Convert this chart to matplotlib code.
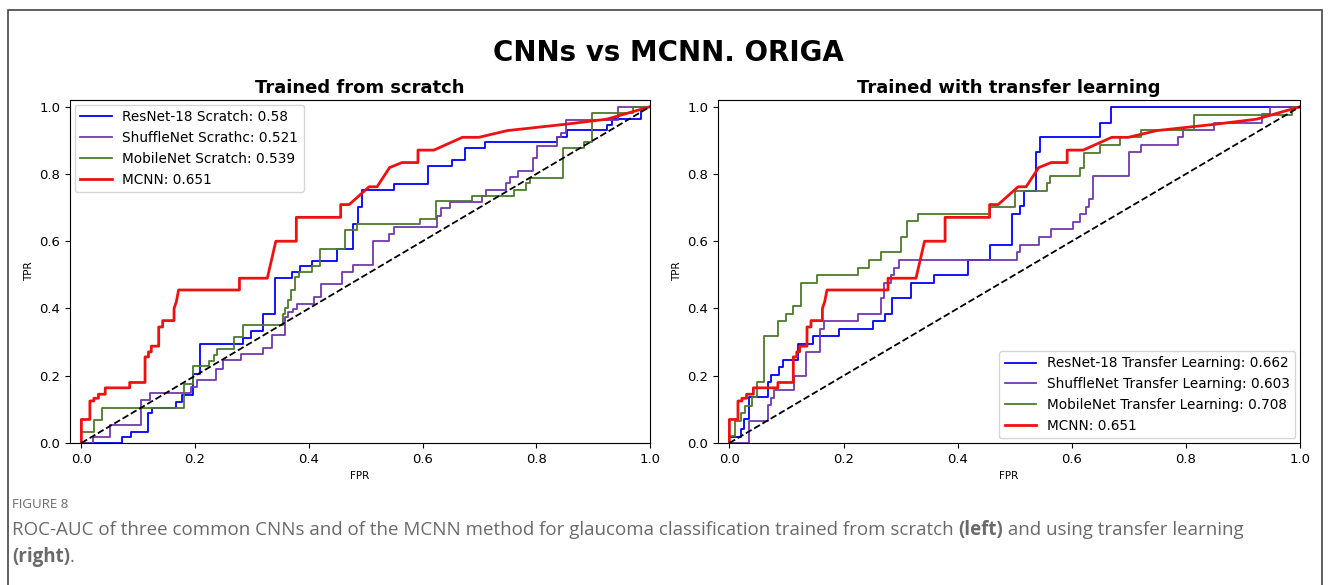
'''ROC curves of three CNNs and the MCNN on ORIGA (scratch vs transfer learning)'''
# import libraries
import matplotlib
matplotlib.use('Agg')
from matplotlib import pyplot as plt
from matplotlib.patches import Rectangle

##########################################
# data (fpr / tpr vertices of each ROC curve)

# MCNN, same curve on both panels
mcnn_fpr = [0, 0, 0.015, 0.015, 0.022, 0.022, 0.03, 0.03, 0.042, 0.042, 0.085, 0.085,
            0.112, 0.112, 0.118, 0.118, 0.123, 0.123, 0.136, 0.136, 0.143, 0.143,
            0.163, 0.163, 0.167, 0.171, 0.278, 0.278, 0.327, 0.342, 0.378, 0.378,
            0.456, 0.456, 0.471, 0.506, 0.52, 0.542, 0.564, 0.592, 0.592, 0.62,
            0.67, 0.699, 0.749, 0.852, 0.924, 1.0]
mcnn_tpr = [0, 0.07, 0.07, 0.125, 0.125, 0.133, 0.133, 0.145, 0.145, 0.164, 0.164, 0.18,
            0.18, 0.256, 0.256, 0.271, 0.271, 0.288, 0.288, 0.345, 0.345, 0.364,
            0.364, 0.40, 0.42, 0.455, 0.455, 0.49, 0.49, 0.60, 0.60, 0.671,
            0.671, 0.709, 0.709, 0.762, 0.762, 0.819, 0.834, 0.834, 0.871, 0.871,
            0.909, 0.909, 0.929, 0.948, 0.963, 1.0]

# trained from scratch
res_s_fpr = [0, 0.071, 0.071, 0.087, 0.087, 0.117, 0.117, 0.124, 0.124, 0.167, 0.167,
             0.177, 0.177, 0.196, 0.196, 0.209, 0.209, 0.284, 0.284, 0.298, 0.298,
             0.319, 0.319, 0.341, 0.341, 0.370, 0.370, 0.384, 0.384, 0.405, 0.405,
             0.449, 0.449, 0.478, 0.478, 0.486, 0.486, 0.493, 0.493, 0.55, 0.55,
             0.609, 0.609, 0.652, 0.652, 0.674, 0.674, 0.709, 0.709, 0.837, 0.837,
             0.854, 0.854, 0.924, 0.924, 0.933, 0.933, 0.985, 0.985, 1.0]
res_s_tpr = [0, 0, 0.018, 0.018, 0.033, 0.033, 0.088, 0.088, 0.103, 0.103, 0.122,
             0.122, 0.142, 0.142, 0.206, 0.206, 0.295, 0.295, 0.313, 0.313, 0.333,
             0.333, 0.384, 0.384, 0.49, 0.49, 0.508, 0.508, 0.525, 0.525, 0.542,
             0.542, 0.577, 0.577, 0.65, 0.65, 0.701, 0.701, 0.752, 0.752, 0.77,
             0.77, 0.825, 0.825, 0.842, 0.842, 0.877, 0.877, 0.894, 0.894, 0.911,
             0.911, 0.931, 0.931, 0.946, 0.946, 0.963, 0.963, 1.0, 1.0]

shu_s_fpr = [0, 0.02, 0.02, 0.05, 0.05, 0.105, 0.105, 0.12, 0.12, 0.193, 0.193, 0.203,
             0.203, 0.237, 0.237, 0.249, 0.249, 0.28, 0.28, 0.32, 0.32, 0.336, 0.336,
             0.358, 0.358, 0.363, 0.363, 0.373, 0.373, 0.38, 0.38, 0.409, 0.409,
             0.421, 0.421, 0.458, 0.458, 0.478, 0.478, 0.513, 0.513, 0.541, 0.541,
             0.55, 0.55, 0.626, 0.626, 0.632, 0.632, 0.649, 0.649, 0.704, 0.704,
             0.711, 0.711, 0.746, 0.746, 0.753, 0.753, 0.767, 0.767, 0.794, 0.794,
             0.802, 0.802, 0.837, 0.837, 0.843, 0.843, 0.853, 0.853, 0.943, 0.943, 1.0]
shu_s_tpr = [0, 0, 0.018, 0.018, 0.055, 0.055, 0.129, 0.129, 0.148, 0.148, 0.166, 0.166,
             0.186, 0.186, 0.221, 0.221, 0.246, 0.246, 0.264, 0.264, 0.283, 0.283, 0.32,
             0.32, 0.374, 0.374, 0.389, 0.389, 0.399, 0.399, 0.414, 0.414, 0.434,
             0.434, 0.472, 0.472, 0.508, 0.508, 0.528, 0.528, 0.602, 0.602, 0.622,
             0.622, 0.642, 0.642, 0.676, 0.676, 0.699, 0.699, 0.716, 0.716, 0.736,
             0.736, 0.752, 0.752, 0.772, 0.772, 0.792, 0.792, 0.810, 0.810, 0.848,
             0.848, 0.884, 0.884, 0.909, 0.909, 0.923, 0.923, 0.961, 0.961, 1.0, 1.0]

mob_s_fpr = [0, 0, 0.022, 0.022, 0.036, 0.036, 0.181, 0.181, 0.196, 0.196, 0.225, 0.225,
             0.233, 0.233, 0.239, 0.239, 0.268, 0.268, 0.284, 0.284, 0.354, 0.354,
             0.358, 0.358, 0.363, 0.363, 0.368, 0.368, 0.376, 0.376, 0.383, 0.383,
             0.405, 0.405, 0.419, 0.419, 0.464, 0.464, 0.485, 0.485, 0.595, 0.595,
             0.624, 0.624, 0.687, 0.687, 0.76, 0.76, 0.782, 0.782, 0.789, 0.789,
             0.847, 0.847, 0.884, 0.884, 0.898, 0.898, 0.97, 0.97, 1.0]
mob_s_tpr = [0, 0.033, 0.033, 0.067, 0.067, 0.105, 0.105, 0.175, 0.175, 0.228, 0.228,
             0.244, 0.244, 0.261, 0.261, 0.28, 0.28, 0.315, 0.315, 0.35, 0.35, 0.384,
             0.384, 0.402, 0.402, 0.424, 0.424, 0.454, 0.454, 0.493, 0.493, 0.508,
             0.508, 0.526, 0.526, 0.577, 0.577, 0.632, 0.632, 0.650, 0.650, 0.667,
             0.667, 0.721, 0.721, 0.736, 0.736, 0.752, 0.752, 0.772, 0.772, 0.788,
             0.788, 0.877, 0.877, 0.894, 0.894, 0.981, 0.981, 1.0, 1.0]

# trained with transfer learning
res_t_fpr = [0, 0, 0.02, 0.02, 0.026, 0.026, 0.034, 0.034, 0.067, 0.067, 0.073, 0.073,
             0.087, 0.087, 0.094, 0.094, 0.12, 0.12, 0.146, 0.146, 0.192, 0.192,
             0.251, 0.251, 0.272, 0.272, 0.285, 0.285, 0.318, 0.318, 0.358, 0.358,
             0.418, 0.418, 0.457, 0.457, 0.496, 0.496, 0.509, 0.509, 0.516, 0.516,
             0.537, 0.537, 0.544, 0.544, 0.649, 0.649, 0.669, 0.669, 1.0]
res_t_tpr = [0, 0.018, 0.018, 0.043, 0.043, 0.07, 0.07, 0.137, 0.137, 0.18, 0.18, 0.201,
             0.201, 0.226, 0.226, 0.248, 0.248, 0.294, 0.294, 0.317, 0.317, 0.34,
             0.34, 0.364, 0.364, 0.384, 0.384, 0.432, 0.432, 0.475, 0.475, 0.5,
             0.5, 0.544, 0.544, 0.59, 0.59, 0.682, 0.682, 0.706, 0.706, 0.75,
             0.75, 0.864, 0.864, 0.909, 0.909, 0.953, 0.953, 1.0, 1.0]

shu_t_fpr = [0, 0.034, 0.034, 0.067, 0.067, 0.073, 0.073, 0.079, 0.079, 0.113, 0.113,
             0.134, 0.134, 0.159, 0.159, 0.165, 0.165, 0.226, 0.226, 0.266, 0.266,
             0.271, 0.271, 0.283, 0.283, 0.289, 0.289, 0.298, 0.298, 0.504, 0.504,
             0.51, 0.51, 0.543, 0.543, 0.564, 0.564, 0.602, 0.602, 0.614, 0.614,
             0.625, 0.625, 0.631, 0.631, 0.637, 0.637, 0.701, 0.701, 0.722, 0.722,
             0.787, 0.787, 0.795, 0.795, 0.849, 0.849, 0.933, 0.933, 0.947, 0.947, 1.0]
shu_t_tpr = [0, 0, 0.066, 0.066, 0.112, 0.112, 0.135, 0.135, 0.158, 0.158, 0.2,
             0.2, 0.271, 0.271, 0.34, 0.34, 0.363, 0.363, 0.385, 0.385, 0.432,
             0.432, 0.475, 0.475, 0.5, 0.5, 0.521, 0.521, 0.544, 0.544, 0.567,
             0.567, 0.59, 0.59, 0.613, 0.613, 0.636, 0.636, 0.658, 0.658, 0.681,
             0.681, 0.703, 0.703, 0.726, 0.726, 0.795, 0.795, 0.864, 0.864, 0.886,
             0.886, 0.911, 0.911, 0.93, 0.93, 0.953, 0.953, 0.978, 0.978, 1.0, 1.0]

mob_t_fpr = [0, 0, 0.01, 0.01, 0.02, 0.02, 0.027, 0.027, 0.04, 0.04, 0.048, 0.048,
             0.06, 0.06, 0.086, 0.086, 0.099, 0.099, 0.112, 0.112, 0.125, 0.125,
             0.153, 0.153, 0.225, 0.225, 0.245, 0.245, 0.266, 0.266, 0.3, 0.3,
             0.312, 0.312, 0.33, 0.33, 0.456, 0.456, 0.501, 0.501, 0.556, 0.556,
             0.562, 0.562, 0.615, 0.615, 0.621, 0.621, 0.649, 0.649, 0.684, 0.684,
             0.722, 0.722, 0.814, 0.814, 0.986, 0.986, 1.0]
mob_t_tpr = [0, 0.02, 0.02, 0.066, 0.066, 0.088, 0.088, 0.11, 0.11, 0.137, 0.137, 0.18,
             0.18, 0.317, 0.317, 0.364, 0.364, 0.385, 0.385, 0.407, 0.407, 0.475,
             0.475, 0.5, 0.5, 0.52, 0.52, 0.544, 0.544, 0.567, 0.567, 0.613,
             0.613, 0.659, 0.659, 0.682, 0.682, 0.703, 0.703, 0.749, 0.749, 0.772,
             0.772, 0.795, 0.795, 0.818, 0.818, 0.862, 0.862, 0.886, 0.886, 0.909,
             0.909, 0.93, 0.93, 0.976, 0.976, 1.0, 1.0]

scratch_labels = ['ResNet-18 Scratch: 0.58', 'ShuffleNet Scrathc: 0.521',
                  'MobileNet Scratch: 0.539', 'MCNN: 0.651']
transfer_labels = ['ResNet-18 Transfer Learning: 0.662', 'ShuffleNet Transfer Learning: 0.603',
                   'MobileNet Transfer Learning: 0.708', 'MCNN: 0.651']
ticks = [0.0, 0.2, 0.4, 0.6, 0.8, 1.0]

colours = ['#0000ff', '#7138b0', '#4d7a2c', '#ee1111']
W, H = 1330, 585

##########################################

def rocPanel(ax, curves, labels, title, legLoc):
    '''Draw one ROC panel with the chance diagonal'''
    for (f, t), lab, c in zip(curves, labels, colours):
        lw = 2.0 if lab.startswith('MCNN') else 1.3
        ax.plot(f, t, color=c, lw=lw, label=lab)
    ax.plot([0, 1], [0, 1], 'k--', lw=1.3)
    ax.set_xlim([-0.02, 1.0])
    ax.set_ylim([0.0, 1.02])
    ax.set_xticks(ticks)
    ax.set_yticks(ticks)
    ax.tick_params(labelsize=9.5)
    ax.set_xlabel('FPR', fontsize=7.5)
    ax.set_ylabel('TPR', fontsize=7.5)
    ax.set_title(title, fontsize=13, fontweight='bold', pad=5)
    ax.legend(loc=legLoc, fontsize=9.8, handlelength=2.3, borderaxespad=0.35)


fig = plt.figure(figsize=(W/100, H/100), dpi=100)

# panel positions in pixels (left, top, right, bottom)
axL = fig.add_axes([70/W, 1-443/H, 580/W, 343/H])
axR = fig.add_axes([718/W, 1-443/H, 582/W, 343/H])

rocPanel(axL, [(res_s_fpr, res_s_tpr), (shu_s_fpr, shu_s_tpr),
               (mob_s_fpr, mob_s_tpr), (mcnn_fpr, mcnn_tpr)],
         scratch_labels, 'Trained from scratch', 'upper left')
rocPanel(axR, [(res_t_fpr, res_t_tpr), (shu_t_fpr, shu_t_tpr),
               (mob_t_fpr, mob_t_tpr), (mcnn_fpr, mcnn_tpr)],
         transfer_labels, 'Trained with transfer learning', 'lower right')

fig.text(668/W, 1-53/H, 'CNNs vs MCNN. ORIGA', fontsize=20, fontweight='bold',
         ha='center', va='center')

# caption below the chart
cap = dict(family='Open Sans', color='#6a6a6a')
fig.text(12/W, 1-505/H, 'FIGURE 8', fontsize=9.5, va='center', **cap)

renderer = fig.canvas.get_renderer()
parts = [('ROC-AUC of three common CNNs and of the MCNN method for glaucoma '
          'classification trained from scratch ', 'normal'),
         ('(left)', 'bold'), (' and using transfer learning', 'normal')]
x = 12/W
for txt, w in parts:
    t = fig.text(x, 1-530/H, txt, fontsize=13.5, fontweight=w, va='center', **cap)
    x += t.get_window_extent(renderer).width / W
x = 12/W
for txt, w in [('(right)', 'bold'), ('.', 'normal')]:
    t = fig.text(x, 1-557/H, txt, fontsize=13.5, fontweight=w, va='center', **cap)
    x += t.get_window_extent(renderer).width / W

# frame round the figure, open at the bottom
fig.add_artist(Rectangle((8/W, -0.2), 1314/W, 0.2 + 1-10/H, fill=False,
                         edgecolor='#444444', lw=1.2, transform=fig.transFigure))

fig.savefig('out.png', dpi=100)
